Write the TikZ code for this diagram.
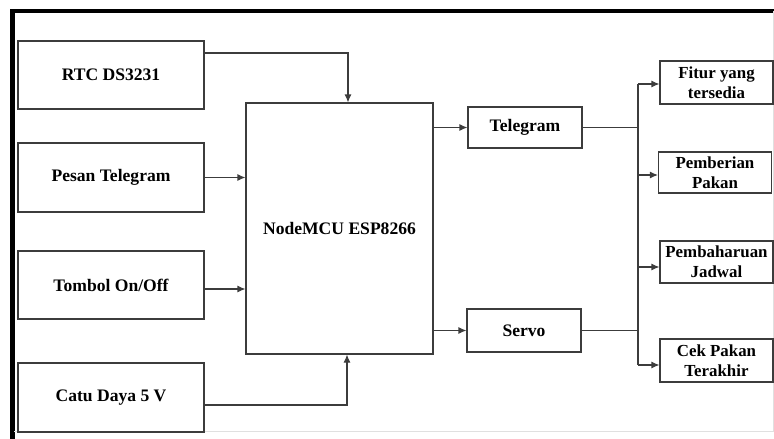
\documentclass[tikz,border=0pt]{standalone}
\usepackage{fontspec}
\setmainfont{Liberation Serif}
\usetikzlibrary{arrows.meta,positioning,calc}
\definecolor{lineblk}{RGB}{60,60,60}
\tikzset{
  blok/.style={rectangle,draw=lineblk,line width=0.7pt,fill=white,
               text=black,minimum width=#1,align=center,
               font=\fontsize{10}{11}\selectfont\bfseries},
  blok/.default=37.2mm,
  fitblok/.style={blok=22.6mm,inner sep=1pt,
                  font=\fontsize{9.6}{11.4}\selectfont\bfseries},
  arr/.style={-{Latex[length=4.5pt,width=4pt]},line width=0.6pt,lineblk},
  ln/.style={line width=0.6pt,lineblk},
}
\begin{document}
\begin{tikzpicture}[x=0.2mm,y=-0.2mm]
  \useasboundingbox (0,0) rectangle (774,439);
  % frame
  \draw[black,line width=2.4pt] (12.5,439) -- (12.5,11) -- (774,11);
  \draw[black!12,line width=0.5pt] (14,431) -- (773,431) -- (773,11);

  % inputs
  \node[blok,minimum height=13.6mm] (rtc) at (111,75) {RTC DS3231};
  \node[blok,minimum height=13.8mm] (pesan) at (111,177.5) {Pesan Telegram};
  \node[blok,minimum height=13.6mm] (tombol) at (111,285) {Tombol On/Off};
  \node[blok,minimum height=13.8mm] (catu) at (111,397.5) {Catu Daya 5 V};

  % controller
  \node[blok=37.4mm,minimum height=50.2mm] (mcu) at (339.5,228.5) {NodeMCU ESP8266};

  % outputs
  \node[blok=22.8mm,minimum height=8.2mm] (tele) at (525,127.5) {Telegram};
  \node[blok=22.8mm,minimum height=8.6mm] (servo) at (524,330.5) {Servo};

  \node[fitblok,minimum height=8.6mm] (fitur) at (716.5,82.5) {Fitur yang\\tersedia};
  \node[fitblok,minimum height=8.2mm] (beri) at (715,172.5) {Pemberian\\Pakan};
  \node[fitblok,minimum height=8.4mm] (jadwal) at (716.5,262) {Pembaharuan\\Jadwal};
  \node[fitblok,minimum height=8.6mm] (cek) at (716.5,360.5) {Cek Pakan\\Terakhir};

  \coordinate (bus) at (638,0);

  % inputs -> mcu
  \draw[arr] ([yshift=4.4mm]rtc.east) -| ([xshift=1.7mm]mcu.north);
  \draw[arr] (pesan.east) -- (pesan.east -| mcu.west);
  \draw[arr] ([yshift=-0.8mm]tombol.east) -- ([yshift=-0.8mm]tombol.east -| mcu.west);
  \draw[arr] ([yshift=-1.5mm]catu.east) -| ([xshift=1.5mm]mcu.south);

  % mcu -> outputs
  \draw[arr] (tele.west -| mcu.east) -- (tele.west);
  \draw[arr] (servo.west -| mcu.east) -- (servo.west);

  % outputs -> features
  \draw[ln] (tele.east) -- (tele.east -| bus);
  \draw[ln] (servo.east) -- (servo.east -| bus);
  \draw[ln] ([yshift=-0.3mm]fitur.west -| bus) -- ([yshift=-0.9mm]cek.west -| bus);
  \draw[arr] ([yshift=-0.3mm]fitur.west -| bus) -- ([yshift=-0.3mm]fitur.west);
  \draw[arr] ([yshift=-0.5mm]beri.west -| bus) -- ([yshift=-0.5mm]beri.west);
  \draw[arr] ([yshift=-1mm]jadwal.west -| bus) -- ([yshift=-1mm]jadwal.west);
  \draw[arr] ([yshift=-0.9mm]cek.west -| bus) -- ([yshift=-0.9mm]cek.west);
\end{tikzpicture}
\end{document}
